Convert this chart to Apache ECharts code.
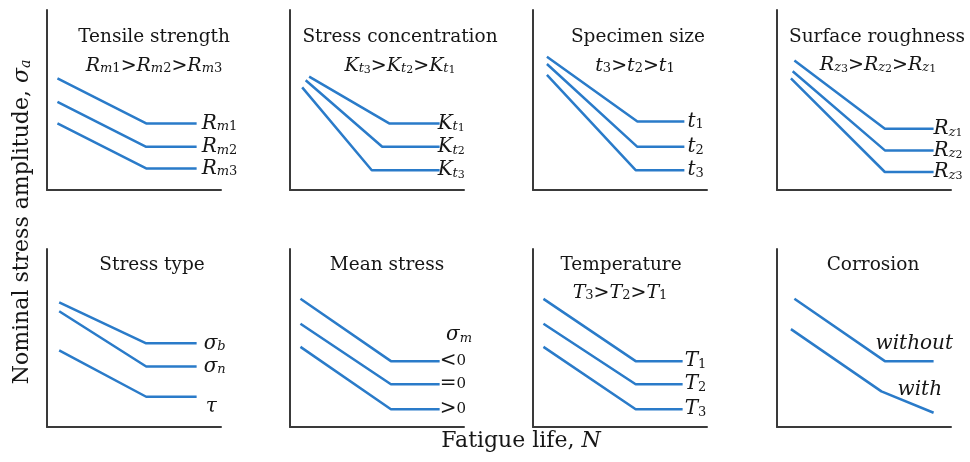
<!DOCTYPE html>
<html>
<head>
<meta charset="utf-8">
<script src="https://cdn.jsdelivr.net/npm/echarts@6/dist/echarts.min.js"></script>
<style>
  html, body { margin: 0; padding: 0; background: #fff; }
  #chart { width: 970px; height: 462px; }
</style>
</head>
<body>
<div id="chart"></div>
<script>
// Qualitative S-N curves: [relative fatigue life, relative stress amplitude] knots
const tensileRm1 = [[6, 62], [57, 37], [86, 37]];
const tensileRm2 = [[6, 49], [57, 24], [86, 24]];
const tensileRm3 = [[6, 37], [57, 12], [86, 12]];

const concKt1 = [[11, 63], [57, 37], [86, 37]];
const concKt2 = [[9, 61], [53, 24], [86, 24]];
const concKt3 = [[7, 57], [47, 11], [86, 11]];

const sizeT1 = [[8, 74], [60, 38], [87, 38]];
const sizeT2 = [[8, 70], [60, 24], [87, 24]];
const sizeT3 = [[8, 64], [59, 11], [87, 11]];

const roughRz1 = [[10, 72], [62, 34], [90, 34]];
const roughRz2 = [[9, 66], [62, 22], [90, 22]];
const roughRz3 = [[8, 62], [62, 10], [90, 10]];

const typeBending = [[7, 70], [57, 47], [86, 47]];
const typeNormal = [[7, 65], [57, 34], [86, 34]];
const typeShear = [[7, 43], [57, 17], [86, 17]];

const meanNegative = [[6, 72], [58, 37], [86, 37]];
const meanZero = [[6, 58], [58, 24], [86, 24]];
const meanPositive = [[6, 45], [58, 10], [86, 10]];

const tempT1 = [[6, 72], [59, 37], [86, 37]];
const tempT2 = [[6, 58], [59, 24], [86, 24]];
const tempT3 = [[6, 45], [59, 10], [86, 10]];

const corrWithout = [[10, 72], [62, 37], [90, 37]];
const corrWith = [[8, 55], [60, 20], [90, 8]];

// Panel headings
const panelTitles = ['Tensile strength', 'Stress concentration', 'Specimen size', 'Surface roughness',
                     'Stress type', 'Mean stress', 'Temperature', 'Corrosion'];
// Ordering line under a heading (rich-text markup), '' when absent
const panelOrders = [
  '{i|R}{s|m}{d|1}{o|>}{i|R}{s|m}{d|2}{o|>}{i|R}{s|m}{d|3}',
  '{i|K}{s|t}{e|3}{o|>}{i|K}{s|t}{e|2}{o|>}{i|K}{s|t}{e|1}',
  '{i|t}{d|3}{o|>}{i|t}{d|2}{o|>}{i|t}{d|1}',
  '{i|R}{s|z}{e|3}{o|>}{i|R}{s|z}{e|2}{o|>}{i|R}{s|z}{e|1}',
  '', '', '{i|T}{d|3}{o|>}{i|T}{d|2}{o|>}{i|T}{d|1}', ''
];
// Curves of each panel and the names written at their ends
const panelCurves = [
  [tensileRm1, tensileRm2, tensileRm3],
  [concKt1, concKt2, concKt3],
  [sizeT1, sizeT2, sizeT3],
  [roughRz1, roughRz2, roughRz3],
  [typeBending, typeNormal, typeShear],
  [meanNegative, meanZero, meanPositive],
  [tempT1, tempT2, tempT3],
  [corrWithout, corrWith]
];
const curveNames = [
  ['{I|R}{S|m}{D|1}', '{I|R}{S|m}{D|2}', '{I|R}{S|m}{D|3}'],
  ['{I|K}{S|t}{E|1}', '{I|K}{S|t}{E|2}', '{I|K}{S|t}{E|3}'],
  ['{I|t}{D|1}', '{I|t}{D|2}', '{I|t}{D|3}'],
  ['{I|R}{S|z}{E|1}', '{I|R}{S|z}{E|2}', '{I|R}{S|z}{E|3}'],
  ['{I|σ}{S|b}', '{I|σ}{S|n}', '{I|τ}'],
  ['{O|<}{Z|0}', '{O|=}{Z|0}', '{O|>}{Z|0}'],
  ['{I|T}{D|1}', '{I|T}{D|2}', '{I|T}{D|3}'],
  ['{I|without}', '{I|with}']
];
const meanStressSymbol = '{I|σ}{S|m}';
const xAxisTitle = 'Fatigue life, {i|N}';
const yAxisTitle = 'Nominal stress amplitude, {i|σ}{s|a}';

// ---- styling & layout ----
const FONT = '"DejaVu Serif", "Liberation Serif", serif';
const BLUE = '#2a7bc9';
const INK = '#161616';
const AXIS = '#3a3a3a';

const RICH = {
  // heading-size tokens
  i: { fontFamily: FONT, fontStyle: 'italic', fontSize: 19, color: INK },
  o: { fontFamily: FONT, fontSize: 19, color: INK },
  s: { fontFamily: FONT, fontStyle: 'italic', fontSize: 13, color: INK, verticalAlign: 'bottom', lineHeight: 5 },
  d: { fontFamily: FONT, fontSize: 13, color: INK, verticalAlign: 'bottom', lineHeight: 5 },
  e: { fontFamily: FONT, fontSize: 11, color: INK, verticalAlign: 'bottom', lineHeight: 5 },
  // curve-name tokens
  I: { fontFamily: FONT, fontStyle: 'italic', fontSize: 20, color: INK },
  O: { fontFamily: FONT, fontSize: 20, color: INK },
  Z: { fontFamily: FONT, fontSize: 15, color: INK },
  S: { fontFamily: FONT, fontStyle: 'italic', fontSize: 13, color: INK, verticalAlign: 'bottom', lineHeight: 5 },
  D: { fontFamily: FONT, fontSize: 13, color: INK, verticalAlign: 'bottom', lineHeight: 5 },
  E: { fontFamily: FONT, fontSize: 11, color: INK, verticalAlign: 'bottom', lineHeight: 5 }
};

const colLeft = [47, 290, 533, 777];
const rowTop = [10, 249];
const PANEL_W = 174;
const PANEL_H = [180, 178];

const titleAt = [[154, 37], [400, 37], [638, 37], [877, 37], [152, 265], [387, 265], [621, 265], [873, 265]];
const orderAt = [[154, 66], [400, 66], [635, 66], [878, 65], null, null, [620, 293], null];
// endLabel distance / offset per panel (and per curve where they differ)
const labelDist = [5, -2, 3, 0, 7, 0, 2, 0];
const labelOffset = [
  null, null, null, null,
  [null, null, [2, 10]],
  null, null,
  [[-58, -17], [-36, -23]]
];

const grids = [], xAxes = [], yAxes = [], series = [], graphics = [];

panelCurves.forEach((curves, k) => {
  const r = Math.floor(k / 4), c = k % 4;
  grids.push({ left: colLeft[c], top: rowTop[r], width: PANEL_W, height: PANEL_H[r] });
  const axisBase = {
    gridIndex: k, type: 'value', min: 0, max: 100,
    axisLine: { show: true, onZero: false, lineStyle: { color: AXIS, width: 2 } },
    axisTick: { show: false }, axisLabel: { show: false }, splitLine: { show: false }
  };
  xAxes.push(Object.assign({}, axisBase));
  yAxes.push(Object.assign({}, axisBase));

  curves.forEach((pts, j) => {
    const off = labelOffset[k] && labelOffset[k][j] ? labelOffset[k][j] : [0, 0];
    series.push({
      type: 'line', xAxisIndex: k, yAxisIndex: k, data: pts,
      symbol: 'none', silent: true,
      lineStyle: { color: BLUE, width: 2.5 },
      endLabel: {
        show: true, distance: labelDist[k], offset: off,
        formatter: () => curveNames[k][j], rich: RICH
      }
    });
  });

  graphics.push({
    type: 'text', x: titleAt[k][0], y: titleAt[k][1], silent: true,
    style: { text: panelTitles[k], fontFamily: FONT, fontSize: 18.5, fill: INK, align: 'center', verticalAlign: 'middle' }
  });
  if (panelOrders[k]) {
    graphics.push({
      type: 'text', x: orderAt[k][0], y: orderAt[k][1], silent: true,
      style: { text: panelOrders[k], rich: RICH, fontFamily: FONT, fill: INK, align: 'center', verticalAlign: 'middle' }
    });
  }
});

graphics.push({
  type: 'text', x: 459, y: 335, silent: true,
  style: { text: meanStressSymbol, rich: RICH, fill: INK, align: 'center', verticalAlign: 'middle' }
});
graphics.push({
  type: 'text', x: 521, y: 441, silent: true,
  style: { text: xAxisTitle, rich: { i: Object.assign({}, RICH.i, { fontSize: 22 }) },
           fontFamily: FONT, fontSize: 22, fill: INK, align: 'center', verticalAlign: 'middle' }
});
graphics.push({
  type: 'text', x: 22, y: 222, rotation: Math.PI / 2, silent: true,
  style: { text: yAxisTitle,
           rich: { i: Object.assign({}, RICH.i, { fontSize: 22 }), s: Object.assign({}, RICH.s, { fontSize: 14 }) },
           fontFamily: FONT, fontSize: 22, fill: INK, align: 'center', verticalAlign: 'middle' }
});

const chart = echarts.init(document.getElementById('chart'), null, { renderer: 'canvas' });
chart.setOption({
  animation: false,
  backgroundColor: '#ffffff',
  grid: grids, xAxis: xAxes, yAxis: yAxes, series: series,
  graphic: graphics
});
</script>
</body>
</html>
